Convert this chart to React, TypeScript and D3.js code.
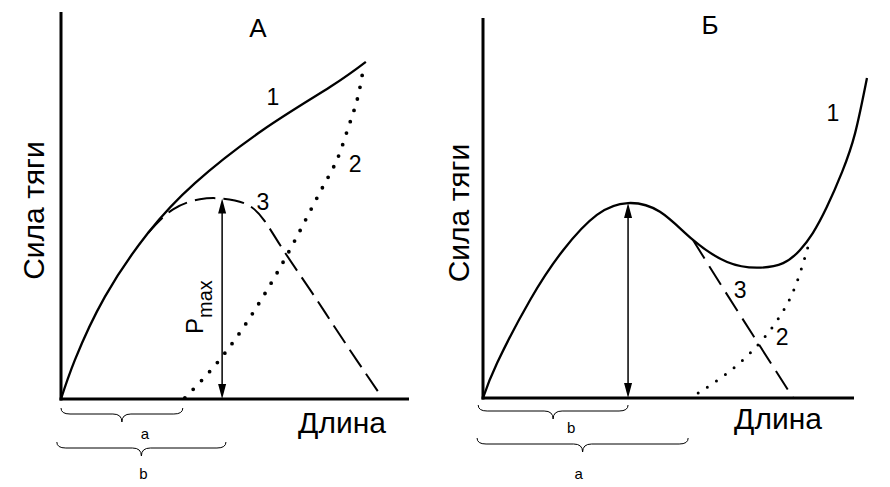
import React from 'react';
import * as d3 from 'd3';

type Pt = [number, number];
const FONT = '"Liberation Sans", Arial, Helvetica, sans-serif';

// ---------- Panel А ----------
const aTitle = 'А';
const aSolid: Pt[] = [[0, 0], [4, 10.1], [12.6, 26.4], [25, 42.9], [38.5, 55.8], [58, 69.5], [77.3, 80.6], [87.6, 87.1]];
const aDashed: Pt[] = [[25, 42.9], [32.2, 49], [39.9, 51.6], [46.3, 51.8], [53.4, 50.3], [58.6, 45.9], [63.8, 38.6], [71.6, 28.2], [78.2, 19.2], [85.3, 9.6], [92.2, 0.5]];
const aDotted: Pt[] = [[35.6, 0.3], [45.1, 9.6], [55.2, 22.3], [65.8, 38.6], [74.4, 53.4], [79.3, 61.8], [82.5, 70], [85.1, 77.3], [86.8, 85]];
const aPmax: Pt = [46.3, 51.8];
const aCurveLabels = [{ t: '1', x: 60.9, y: 78 }, { t: '2', x: 84.5, y: 60.6 }, { t: '3', x: 58, y: 50.8 }];
const aBraces = [{ from: 0, to: 35, label: 'a' }, { from: -1.2, to: 47.4, label: 'b' }];

// ---------- Panel Б ----------
const bTitle = 'Б';
const bSolid: Pt[] = [[0, 0], [3.8, 9.2], [12.7, 25.8], [21.6, 38.9], [30.7, 48.2], [39.1, 51.3], [47.7, 49], [56.6, 41.6], [65.8, 35.8], [74, 34.3], [80.9, 35.5], [85.4, 38.9], [88.9, 43.4], [92.7, 50.3], [96.8, 59.5], [100.3, 69.7], [103.5, 84.2]];
const bDashed: Pt[] = [[56.6, 41.6], [64.7, 28.9], [74.1, 14.5], [83.6, 0]];
const bDotted: Pt[] = [[58, 1.3], [64.4, 5.5], [70.6, 10.5], [76, 16.1], [80.6, 22.4], [84.1, 29.2], [86.8, 37.1], [88.1, 41.6]];
const bPmax: Pt = [39.1, 51.3];
const bCurveLabels = [{ t: '1', x: 94.3, y: 75 }, { t: '3', x: 69.3, y: 28.4 }, { t: '2', x: 80.6, y: 16.1 }];
const bBraces = [{ from: -1.3, to: 39.1, label: 'b' }, { from: -1.6, to: 55.3, label: 'a' }];

const yTitle = 'Сила тяги';
const xTitle = 'Длина';

interface PanelProps {
  title: string; solid: Pt[]; dashed: Pt[]; dotted: Pt[]; pmax: Pt;
  labels: { t: string; x: number; y: number }[];
  braces: { from: number; to: number; label: string }[];
  xr: [number, number]; yr: [number, number];
  titlePos: Pt; yTitleX: number; xTitleX: number; xTitleY: number;
  braceY: number[]; braceLabelDx: number[]; braceLabelY: number[];
  dotDash: string; dotW: number; dashArr: string; showPmaxLabel: boolean;
}

function bracePath(x1: number, x2: number, y0: number): string {
  const m = 6, h = 14, r = 9;
  const cx = (x1 + x2) / 2;
  return `M${x1},${y0} Q${x1},${y0 + m} ${x1 + r},${y0 + m} L${cx - r},${y0 + m} Q${cx},${y0 + m} ${cx},${y0 + h} Q${cx},${y0 + m} ${cx + r},${y0 + m} L${x2 - r},${y0 + m} Q${x2},${y0 + m} ${x2},${y0}`;
}

function Panel(p: PanelProps) {
  const x = d3.scaleLinear().domain([0, 100]).range(p.xr);
  const y = d3.scaleLinear().domain([0, 100]).range(p.yr);
  const line = d3.line<Pt>().x(d => x(d[0])).y(d => y(d[1])).curve(d3.curveNatural);
  const ax = x(p.pmax[0]);
  const top = y(p.pmax[1]);
  const bot = y(0);
  const hw = 4, hl = 15;
  return (
    <g>
      <line x1={x(0)} x2={x(0)} y1={y(0) + 1.5} y2={y(100)} stroke="#000" strokeWidth={3} />
      <line x1={x(0) - 1.5} x2={x(100)} y1={y(0)} y2={y(0)} stroke="#000" strokeWidth={3} />
      <path d={line(p.dotted) || ''} fill="none" stroke="#000" strokeWidth={p.dotW} strokeLinecap="round" strokeDasharray={p.dotDash} />
      <path d={line(p.dashed) || ''} fill="none" stroke="#000" strokeWidth={2} strokeDasharray={p.dashArr} />
      <path d={line(p.solid) || ''} fill="none" stroke="#000" strokeWidth={2.3} />
      <line x1={ax} x2={ax} y1={top + hl - 1} y2={bot - hl + 1} stroke="#000" strokeWidth={1.5} />
      <polygon points={`${ax},${top} ${ax - hw},${top + hl} ${ax + hw},${top + hl}`} fill="#000" />
      <polygon points={`${ax},${bot} ${ax - hw},${bot - hl} ${ax + hw},${bot - hl}`} fill="#000" />
      {p.showPmaxLabel && (
        <text transform={`translate(${ax - 19},334) rotate(-90)`} fontFamily={FONT} fontSize={24} fill="#000">
          P<tspan fontSize={20} dy={9}>max</tspan>
        </text>
      )}
      {p.labels.map(l => (
        <text key={l.t} x={x(l.x)} y={y(l.y)} fontFamily={FONT} fontSize={23} textAnchor="middle" dominantBaseline="central" fill="#000">{l.t}</text>
      ))}
      {p.braces.map((b, i) => (
        <g key={b.label}>
          <path d={bracePath(x(b.from), x(b.to), p.braceY[i])} fill="none" stroke="#000" strokeWidth={1} />
          <text x={(x(b.from) + x(b.to)) / 2 + p.braceLabelDx[i]} y={p.braceLabelY[i]} fontFamily={FONT} fontSize={15} textAnchor="middle" dominantBaseline="central" fill="#000">{b.label}</text>
        </g>
      ))}
      <text x={p.titlePos[0]} y={p.titlePos[1]} fontFamily={FONT} fontSize={26} textAnchor="middle" dominantBaseline="central" fill="#000">{p.title}</text>
      <text transform={`translate(${p.yTitleX},${(y(0) + y(100)) / 2 + 5}) rotate(-90)`} fontFamily={FONT} fontSize={30} textAnchor="middle" dominantBaseline="central" fill="#000">{yTitle}</text>
      <text x={p.xTitleX} y={p.xTitleY} fontFamily={FONT} fontSize={30} textAnchor="middle" dominantBaseline="central" fill="#000">{xTitle}</text>
    </g>
  );
}

export default function App() {
  return (
    <svg width={890} height={487} style={{ position: 'absolute', left: 0, top: 0, background: '#fff' }}>
      <rect width={890} height={487} fill="#fff" />
      <Panel title={aTitle} solid={aSolid} dashed={aDashed} dotted={aDotted} pmax={aPmax}
        labels={aCurveLabels} braces={aBraces} xr={[61, 409]} yr={[399, 12]}
        titlePos={[258, 28]} yTitleX={33} xTitleX={342} xTitleY={422}
        braceY={[408, 442]} braceLabelDx={[23, 2]} braceLabelY={[433, 473]}
        dotDash="0 12" dotW={3.8} dashArr="21 8" showPmaxLabel={true} />
      <Panel title={bTitle} solid={bSolid} dashed={bDashed} dotted={bDotted} pmax={bPmax}
        labels={bCurveLabels} braces={bBraces} xr={[483, 854]} yr={[398, 18]}
        titlePos={[710, 25]} yTitleX={458} xTitleX={778} xTitleY={418}
        braceY={[405, 438]} braceLabelDx={[18, -4]} braceLabelY={[427, 473]}
        dotDash="0 11" dotW={3} dashArr="22 9" showPmaxLabel={false} />
    </svg>
  );
}
